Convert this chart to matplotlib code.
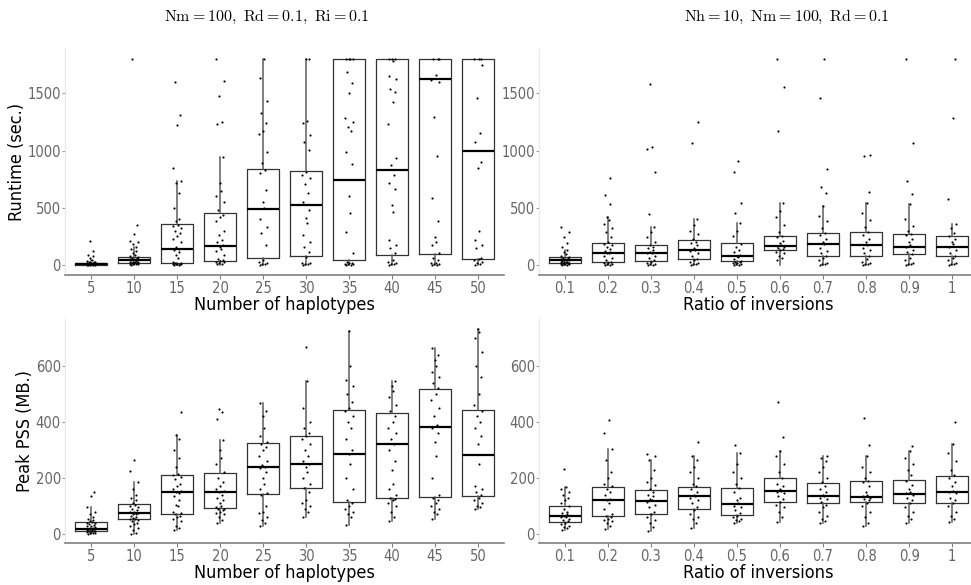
import matplotlib
matplotlib.use("Agg")
import matplotlib.pyplot as plt
from matplotlib import font_manager

# condensed sans for axes, Computer Modern for the panel titles
names = {f.name for f in font_manager.fontManager.ttflist}
if "Liberation Sans Narrow" in names:
    plt.rcParams["font.family"] = ["Liberation Sans Narrow", "DejaVu Sans"]
else:
    plt.rcParams["font.family"] = ["DejaVu Sans"]
    plt.rcParams["font.stretch"] = "condensed"
plt.rcParams["mathtext.fontset"] = "cm"

# ---------------- data ----------------
hap_labels = ["5", "10", "15", "20", "25", "30", "35", "40", "45", "50"]
inv_labels = ["0.1", "0.2", "0.3", "0.4", "0.5", "0.6", "0.7", "0.8", "0.9", "1"]

# runtime vs number of haplotypes: box stats (q1, median, q3, whisker low, whisker high)
rt_hap_q1 = [2, 15, 17, 35, 61, 76, 41, 87, 93, 55]
rt_hap_med = [10, 44, 137, 169, 492, 524, 746, 833, 1623, 994]
rt_hap_q3 = [20, 73, 356, 457, 836, 819, 1800, 1800, 1800, 1800]
rt_hap_lo = [0, 0, 0, 0, 0, 0, 0, 0, 0, 0]
rt_hap_hi = [40, 160, 730, 940, 1800, 1800, 1800, 1800, 1800, 1800]
rt_hap_pts = [
    [0, 1, 2, 2, 3, 4, 5, 5, 6, 8, 9, 10, 10, 12, 13, 15, 17, 18, 20, 22, 25, 30, 35, 45, 60, 75, 90, 120, 205],
    [2, 5, 8, 10, 12, 15, 18, 20, 22, 25, 28, 30, 35, 40, 42, 45, 48, 50, 55, 60, 65, 70, 75, 85, 100, 120, 140, 160, 185, 200, 210, 270, 345, 1800],
    [0, 2, 4, 5, 8, 10, 12, 15, 20, 30, 60, 90, 110, 130, 140, 160, 200, 230, 250, 280, 300, 320, 340, 350, 380, 400, 500, 630, 720, 730, 850, 1220, 1310, 1600],
    [5, 10, 20, 25, 30, 35, 40, 50, 90, 120, 140, 160, 170, 200, 220, 260, 300, 380, 420, 440, 480, 550, 600, 650, 720, 940, 1230, 1250, 1480, 1610, 1800],
    [0, 5, 10, 20, 30, 40, 175, 282, 335, 399, 496, 553, 656, 807, 830, 889, 990, 1145, 1171, 1238, 1326, 1437, 1637, 1800],
    [0, 5, 10, 15, 20, 73, 116, 160, 204, 262, 364, 408, 481, 553, 632, 708, 758, 787, 816, 1005, 1078, 1136, 1238, 1259, 1800, 1800],
    [0, 3, 5, 8, 10, 15, 20, 30, 102, 291, 452, 606, 880, 990, 1171, 1209, 1253, 1282, 1506, 1588, 1684, 1800, 1800, 1800, 1800],
    [0, 5, 10, 20, 30, 40, 108, 146, 175, 218, 463, 522, 664, 719, 787, 874, 933, 1233, 1428, 1510, 1536, 1623, 1655, 1786, 1800, 1800, 1800],
    [0, 2, 5, 10, 15, 20, 40, 60, 100, 175, 204, 248, 388, 583, 953, 1297, 1602, 1620, 1661, 1800, 1800, 1800],
    [0, 10, 20, 30, 40, 50, 60, 149, 175, 218, 300, 845, 903, 1078, 1151, 1462, 1748, 1800, 1800, 1800],
]

# runtime vs ratio of inversions
rt_inv_q1 = [20, 26, 35, 50, 35, 128, 81, 76, 94, 79]
rt_inv_med = [44, 108, 105, 134, 82, 166, 181, 175, 155, 157]
rt_inv_q3 = [67, 190, 175, 216, 192, 251, 277, 286, 268, 251]
rt_inv_lo = [0, 0, 0, 0, 0, 0, 0, 0, 0, 0]
rt_inv_hi = [130, 417, 329, 399, 364, 542, 519, 542, 530, 356]
rt_inv_pts = [
    [0, 2, 5, 8, 10, 12, 15, 18, 20, 22, 25, 28, 30, 35, 40, 42, 45, 50, 55, 60, 65, 70, 80, 95, 110, 130, 160, 195, 240, 290, 335],
    [0, 3, 5, 8, 15, 20, 30, 45, 60, 80, 100, 105, 110, 120, 140, 160, 175, 185, 200, 240, 290, 320, 360, 395, 417, 531, 612, 758],
    [0, 2, 5, 10, 20, 30, 40, 60, 80, 100, 105, 110, 130, 150, 160, 170, 200, 240, 290, 329, 443, 813, 1011, 1029, 1582],
    [0, 5, 10, 20, 30, 40, 50, 80, 100, 120, 134, 150, 170, 190, 200, 230, 270, 300, 350, 399, 1069, 1253],
    [0, 3, 5, 10, 15, 20, 25, 30, 35, 50, 70, 82, 90, 110, 130, 160, 185, 250, 300, 364, 452, 539, 810, 912],
    [40, 60, 80, 100, 115, 128, 140, 150, 160, 166, 175, 190, 210, 240, 251, 290, 350, 420, 470, 542, 1174, 1553, 1800],
    [0, 5, 10, 20, 40, 60, 81, 100, 120, 150, 181, 200, 230, 260, 277, 320, 380, 430, 519, 629, 685, 839, 1463, 1800],
    [0, 5, 10, 15, 30, 50, 76, 100, 130, 150, 175, 200, 230, 260, 286, 330, 393, 452, 542, 635, 955, 965],
    [0, 5, 10, 20, 40, 60, 94, 110, 130, 155, 170, 200, 230, 260, 268, 300, 340, 400, 530, 618, 732, 1069, 1800],
    [0, 5, 10, 20, 40, 60, 79, 100, 130, 157, 180, 200, 230, 251, 280, 320, 356, 574, 1285, 1800],
]

# peak memory vs number of haplotypes
mem_hap_q1 = [11, 54, 70, 92, 142, 163, 113, 130, 133, 135]
mem_hap_med = [19, 74, 150, 150, 239, 249, 286, 321, 382, 283]
mem_hap_q3 = [44, 108, 211, 219, 326, 351, 443, 433, 517, 443]
mem_hap_lo = [0, 0, 14, 40, 29, 62, 31, 48, 52, 88]
mem_hap_hi = [95, 185, 354, 336, 469, 546, 726, 548, 663, 732]
mem_hap_pts = [
    [0, 2, 4, 5, 6, 8, 10, 11, 12, 14, 15, 17, 18, 19, 20, 22, 25, 28, 30, 32, 35, 38, 40, 42, 45, 50, 55, 60, 70, 80, 95, 135, 151],
    [0, 5, 15, 20, 30, 35, 40, 45, 50, 52, 55, 58, 60, 65, 70, 72, 75, 78, 80, 85, 90, 95, 100, 105, 110, 120, 130, 140, 160, 185, 225, 264],
    [14, 20, 30, 45, 55, 60, 65, 70, 75, 80, 100, 105, 120, 135, 145, 150, 155, 160, 170, 180, 195, 205, 210, 215, 240, 270, 300, 340, 354, 437],
    [40, 50, 60, 70, 75, 80, 85, 88, 90, 95, 100, 110, 120, 130, 140, 150, 155, 160, 170, 185, 200, 220, 250, 270, 300, 336, 410, 435, 445],
    [29, 40, 50, 60, 75, 80, 100, 140, 145, 160, 180, 200, 220, 235, 240, 245, 260, 280, 300, 310, 320, 330, 350, 380, 420, 440, 469],
    [62, 80, 90, 100, 110, 120, 150, 163, 180, 200, 220, 240, 250, 260, 280, 300, 320, 340, 350, 360, 380, 400, 450, 546, 667],
    [31, 60, 70, 80, 90, 100, 110, 120, 160, 200, 250, 286, 300, 340, 380, 400, 420, 440, 450, 470, 500, 530, 550, 600, 726],
    [48, 60, 80, 100, 110, 120, 125, 130, 140, 160, 180, 230, 260, 300, 320, 340, 360, 380, 400, 420, 440, 460, 490, 510, 530, 548],
    [52, 70, 80, 90, 100, 110, 120, 130, 140, 200, 280, 330, 360, 380, 390, 420, 450, 480, 500, 520, 540, 560, 580, 600, 620, 640, 663],
    [88, 95, 100, 110, 120, 130, 140, 150, 160, 170, 250, 320, 350, 380, 400, 420, 440, 460, 500, 560, 600, 650, 700, 720, 732],
]

# peak memory vs ratio of inversions
mem_inv_q1 = [42, 63, 70, 89, 67, 115, 112, 113, 110, 110]
mem_inv_med = [63, 121, 119, 136, 106, 155, 137, 133, 144, 150]
mem_inv_q3 = [101, 168, 156, 169, 163, 199, 182, 188, 192, 208]
mem_inv_lo = [14, 17, 12, 20, 38, 44, 38, 29, 40, 44]
mem_inv_hi = [169, 304, 264, 279, 290, 298, 279, 279, 298, 320]
mem_inv_pts = [
    [14, 20, 25, 30, 35, 40, 45, 50, 55, 60, 62, 65, 70, 75, 80, 90, 100, 110, 120, 130, 140, 150, 160, 169, 231],
    [17, 30, 40, 45, 50, 55, 60, 65, 70, 90, 110, 120, 125, 140, 150, 160, 170, 180, 200, 220, 265, 304, 362, 407],
    [12, 25, 40, 50, 60, 70, 80, 95, 105, 115, 120, 125, 135, 140, 150, 160, 175, 185, 200, 230, 264, 280, 285],
    [20, 40, 55, 60, 70, 85, 95, 110, 120, 130, 135, 140, 150, 160, 170, 180, 200, 220, 240, 265, 279, 329],
    [38, 45, 50, 55, 60, 65, 75, 85, 95, 100, 110, 120, 130, 150, 165, 180, 200, 220, 250, 290, 318],
    [44, 60, 80, 95, 105, 115, 125, 135, 145, 150, 155, 160, 170, 180, 200, 220, 250, 280, 298, 345, 473],
    [38, 45, 55, 65, 80, 95, 105, 115, 125, 130, 135, 140, 150, 160, 170, 185, 200, 220, 240, 260, 270, 279],
    [29, 40, 60, 80, 100, 110, 120, 125, 130, 135, 140, 150, 170, 185, 190, 200, 220, 240, 279, 318, 413],
    [40, 55, 65, 80, 95, 110, 120, 130, 140, 145, 150, 160, 175, 190, 210, 230, 250, 270, 298, 316],
    [44, 55, 65, 80, 100, 110, 120, 130, 145, 150, 155, 170, 185, 200, 210, 230, 260, 290, 320, 399],
]

# fixed horizontal jitter pattern for the points
jitter = [-0.07, 0.05, -0.02, 0.09, -0.10, 0.01, 0.07, -0.05, 0.10, -0.08, 0.03, -0.01, 0.06]

TICK_COL = "#666666"


def draw(ax, q1, med, q3, lo, hi, pts, labels, ylim, yticks, xlabel, ylabel=None):
    stats = []
    for i in range(len(labels)):
        stats.append(dict(q1=q1[i], med=med[i], q3=q3[i], whislo=lo[i], whishi=hi[i], fliers=[]))
    pos = list(range(1, len(labels) + 1))
    ax.bxp(stats, positions=pos, widths=0.75, showfliers=False, showcaps=False,
           boxprops=dict(color="#333333", linewidth=0.9),
           whiskerprops=dict(color="#5c5c5c", linewidth=1.1),
           medianprops=dict(color="black", linewidth=1.6))
    for p, vals in zip(pos, pts):
        xs = [p + jitter[k % len(jitter)] for k in range(len(vals))]
        ax.scatter(xs, vals, s=2.4, color="black", zorder=3, linewidths=0)
    ax.set_xlim(0.4, len(labels) + 0.6)
    ax.set_ylim(*ylim)
    ax.set_xticks(pos)
    ax.set_xticklabels(labels)
    ax.set_yticks(yticks)
    for s in ["top", "right"]:
        ax.spines[s].set_visible(False)
    ax.spines["left"].set_color("#e6e6e6")
    ax.spines["left"].set_linewidth(0.8)
    ax.spines["bottom"].set_color("#808080")
    ax.spines["bottom"].set_linewidth(1.2)
    ax.tick_params(axis="x", length=3, width=0.8, color="#808080", labelsize=10.5,
                   labelcolor=TICK_COL, pad=1)
    ax.tick_params(axis="y", length=2, width=0.8, color="#9a9a9a", labelsize=10.5,
                   labelcolor=TICK_COL, pad=1)
    ax.set_xlabel(xlabel, fontsize=13, color="black", labelpad=0)
    if ylabel:
        ax.set_ylabel(ylabel, fontsize=13, color="black", labelpad=1)


W, H = 971, 585
fig = plt.figure(figsize=(W / 100, H / 100), dpi=100)

ax_tl = fig.add_axes([65 / W, 1 - 275 / H, 439 / W, 226 / H])
ax_tr = fig.add_axes([539 / W, 1 - 275 / H, 439 / W, 226 / H])
ax_bl = fig.add_axes([65 / W, 1 - 543 / H, 439 / W, 224 / H])
ax_br = fig.add_axes([539 / W, 1 - 543 / H, 439 / W, 224 / H])

rt_lim = (-88, 1888)
mem_lim = (-32, 768)

draw(ax_tl, rt_hap_q1, rt_hap_med, rt_hap_q3, rt_hap_lo, rt_hap_hi, rt_hap_pts,
     hap_labels, rt_lim, [0, 500, 1000, 1500], "Number of haplotypes", "Runtime (sec.)")
draw(ax_tr, rt_inv_q1, rt_inv_med, rt_inv_q3, rt_inv_lo, rt_inv_hi, rt_inv_pts,
     inv_labels, rt_lim, [0, 500, 1000, 1500], "Ratio of inversions")
draw(ax_bl, mem_hap_q1, mem_hap_med, mem_hap_q3, mem_hap_lo, mem_hap_hi, mem_hap_pts,
     hap_labels, mem_lim, [0, 200, 400, 600], "Number of haplotypes", "Peak PSS (MB.)")
draw(ax_br, mem_inv_q1, mem_inv_med, mem_inv_q3, mem_inv_lo, mem_inv_hi, mem_inv_pts,
     inv_labels, mem_lim, [0, 200, 400, 600], "Ratio of inversions")

fig.text(267 / W, 1 - 17 / H, r"$\mathrm{Nm{=}100,\ Rd{=}0.1,\ Ri{=}0.1}$",
         ha="center", va="center", fontsize=11.5)
fig.text(787 / W, 1 - 17 / H, r"$\mathrm{Nh{=}10,\ Nm{=}100,\ Rd{=}0.1}$",
         ha="center", va="center", fontsize=11.5)

fig.savefig("out.png", dpi=100)
